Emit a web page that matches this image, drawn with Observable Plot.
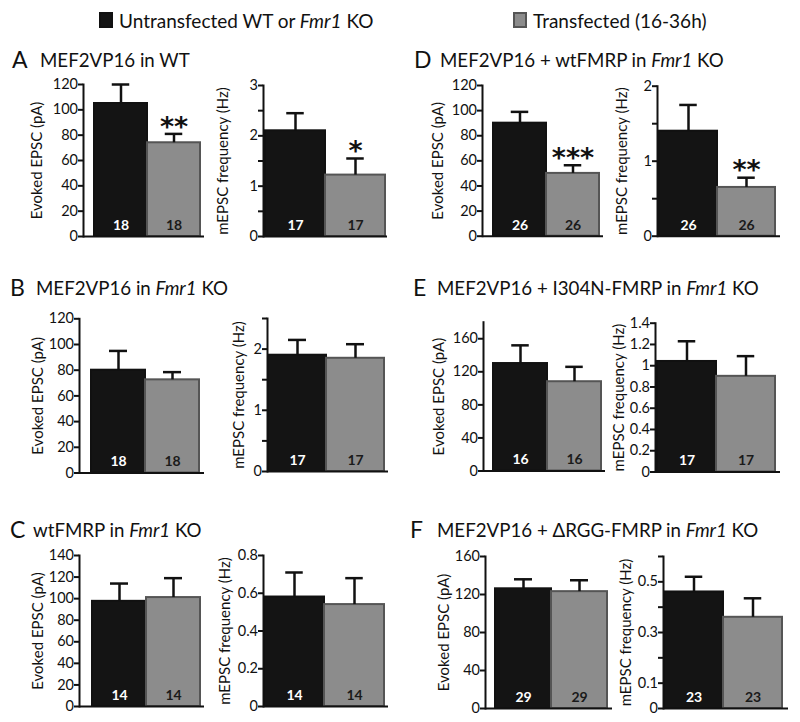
<!DOCTYPE html>
<html>
<head>
<meta charset="utf-8">
<script src="https://cdn.jsdelivr.net/npm/d3@7"></script>
<script src="https://cdn.jsdelivr.net/npm/@observablehq/plot@0.6"></script>
<style>
  html, body { margin: 0; padding: 0; background: #fff; }
  #page { position: relative; width: 800px; height: 722px; overflow: hidden; font-family: Lato, "Open Sans", sans-serif; color: #111; }
  #page svg { position: absolute; left: 0; top: 0; }
  .t { position: absolute; white-space: nowrap; line-height: 1; }
  .sq { position: absolute; box-sizing: border-box; }
  g[aria-label="y-axis tick"] path { stroke-width: 2px; }
  g[aria-label="y-axis label"] { font-size: 15px; }
</style>
</head>
<body>
<div id="page"></div>
<script>
// ---------------- data ----------------
const panelLetters = ["A", "B", "C", "D", "E", "F"];
const panelTitles = [
  "MEF2VP16 in WT",
  "MEF2VP16 in <i>Fmr1</i> KO",
  "wtFMRP in <i>Fmr1</i> KO",
  "MEF2VP16 + wtFMRP in <i>Fmr1</i> KO",
  "MEF2VP16 + I304N-FMRP in <i>Fmr1</i> KO",
  "MEF2VP16 + \u0394RGG-FMRP in <i>Fmr1</i> KO"
];
const groups = ["Untransfected", "Transfected"];
const groupLabels = ["Untransfected WT or <i>Fmr1</i> KO", "Transfected (16-36h)"];

// Evoked EPSC (pA): mean and top of error bar
const evokedUntrans = [105, 80, 97.5, 90, 130, 126];
const evokedUntransTop = [120, 95, 114, 99, 152, 136];
const evokedTrans = [74, 72.5, 101, 50, 108, 123];
const evokedTransTop = [81, 78.5, 119, 56.5, 126, 135];
const evokedN = [18, 18, 14, 26, 16, 29];
const evokedStars = ["**", "", "", "***", "", ""];

// mEPSC frequency (Hz)
const mepscUntrans = [2.1, 1.9, 0.58, 1.4, 1.04, 0.46];
const mepscUntransTop = [2.45, 2.15, 0.71, 1.75, 1.23, 0.52];
const mepscTrans = [1.22, 1.85, 0.54, 0.65, 0.9, 0.36];
const mepscTransTop = [1.55, 2.08, 0.68, 0.78, 1.09, 0.435];
const mepscN = [17, 17, 14, 26, 17, 23];
const mepscStars = ["*", "", "", "**", "", ""];

// axes
const evokedMax = [120, 120, 140, 120, 180, 160];
const evokedTicks = [
  [0, 20, 40, 60, 80, 100, 120],
  [0, 20, 40, 60, 80, 100, 120],
  [0, 20, 40, 60, 80, 100, 120, 140],
  [0, 20, 40, 60, 80, 100, 120],
  [0, 40, 80, 120, 160],
  [0, 40, 80, 120, 160]
];
const mepscMax = [3, 2.5, 0.8, 2, 1.4, 0.6];
const mepscTicks = [
  [0, 0.5, 1, 1.5, 2, 2.5, 3],
  [0, 0.5, 1, 1.5, 2, 2.5],
  [0, 0.2, 0.4, 0.6, 0.8],
  [0, 0.5, 1, 1.5, 2],
  [0, 0.2, 0.4, 0.6, 0.8, 1, 1.2, 1.4],
  [0, 0.1, 0.2, 0.3, 0.4, 0.5, 0.6]
];
const mepscTickLabels = [
  [0, 1, 2, 3],
  [0, 1, 2],
  [0, 0.2, 0.4, 0.6, 0.8],
  [0, 1, 2],
  [0, 0.2, 0.4, 0.6, 0.8, 1, 1.2, 1.4],
  [0, 0.1, 0.3, 0.5]
];
const evokedLabel = "Evoked EPSC (pA)";
const mepscLabel = "mEPSC frequency (Hz)";

// ---------------- layout (pixels) ----------------
const W = 800, H = 722;
const layout = {
  A: { evoked: {x0: 83, x1: 204, y0: 84, y1: 236, b0: 93, b1: 200, lo: 52},
       mepsc:  {x0: 263, x1: 387, y0: 85, y1: 236, b0: 264, b1: 385, lo: 46},
       letter: [12, 68], title: 40 },
  B: { evoked: {x0: 79, x1: 204, y0: 318.3, y1: 472.5, b0: 91, b1: 199, lo: 47},
       mepsc:  {x0: 267, x1: 388, y0: 318, y1: 471, b0: 268, b1: 384, lo: 34},
       letter: [10, 296], title: 36 },
  C: { evoked: {x0: 79, x1: 204, y0: 555, y1: 706, b0: 92, b1: 200, lo: 47},
       mepsc:  {x0: 263, x1: 388, y0: 555, y1: 706, b0: 263, b1: 384, lo: 44},
       letter: [10, 538], title: 33 },
  D: { evoked: {x0: 482, x1: 603, y0: 85, y1: 235.7, b0: 492, b1: 599, lo: 50},
       mepsc:  {x0: 657, x1: 780, y0: 85.7, y1: 235.7, b0: 658, b1: 775, lo: 41},
       letter: [414, 68], title: 440 },
  E: { evoked: {x0: 483, x1: 605, y0: 321.7, y1: 470.5, b0: 492, b1: 601, lo: 50},
       mepsc:  {x0: 655, x1: 780, y0: 322.7, y1: 471.5, b0: 656, b1: 775, lo: 42},
       letter: [413, 296], title: 437 },
  F: { evoked: {x0: 485, x1: 612, y0: 556, y1: 708, b0: 495, b1: 607, lo: 47},
       mepsc:  {x0: 663, x1: 788, y0: 556, y1: 708, b0: 663, b1: 782, lo: 43},
       letter: [410, 538], title: 437 }
};
const colors = {Untransfected: "#141414", Transfected: "#8c8c8c"};
const strokes = {Untransfected: "#111", Transfected: "#555"};
const numColors = {Untransfected: "#fff", Transfected: "#1a1a1a"};
const FS = 14.5;

const page = document.getElementById("page");

function addText(html, x, baseline, fs, extra = "") {
  const d = document.createElement("div");
  d.className = "t";
  d.style.cssText = `left:${x}px;top:${baseline - 0.887 * fs}px;font-size:${fs}px;${extra}`;
  d.innerHTML = html;
  page.appendChild(d);
}

function chart(fr, ymax, ticks, labels, label, vals, tops, n, stars) {
  const data = groups.map((g, j) => ({g, v: vals[j], top: tops[j], n: String(n), stars: j === 1 ? stars : ""}));
  const bw = (fr.b1 - fr.b0) / 2;
  const inset = (bw - 18) / 2;
  const svg = Plot.plot({
    width: W, height: H,
    marginLeft: fr.x0, marginRight: W - fr.x1, marginTop: fr.y0, marginBottom: H - fr.y1,
    style: {background: "transparent", fontFamily: "Lato, 'Open Sans', sans-serif", fontSize: FS + "px", color: "#111", overflow: "visible"},
    x: {type: "band", domain: groups, range: [fr.b0, fr.b1], padding: 0, axis: null},
    y: {domain: [0, ymax], ticks, tickFormat: d => labels.includes(d) ? String(d) : "",
        tickSize: 5, tickPadding: 0.5, label, labelAnchor: "center", labelOffset: fr.lo, labelArrow: "none"},
    marks: [
      Plot.barY(data, {x: "g", y: "v", fill: d => colors[d.g], stroke: d => strokes[d.g], strokeWidth: 2}),
      Plot.ruleX(data, {x: "g", y1: "v", y2: "top", stroke: "#111", strokeWidth: 2.5}),
      Plot.tickY(data, {x: "g", y: "top", stroke: "#111", strokeWidth: 2.5, insetLeft: inset, insetRight: inset}),
      Plot.text(data, {x: "g", y: 0, text: "n", fill: d => numColors[d.g], fontWeight: "bold", fontSize: 14, dy: -11}),
      Plot.text(data.filter(d => d.stars), {x: "g", y: "top", text: "stars", fill: "#111", fontWeight: "bold",
        fontSize: 27, fontFamily: "DejaVu Sans", dy: -7}),
      Plot.ruleY([0], {stroke: "#111", strokeWidth: 2}),
      Plot.frame({anchor: "left", stroke: "#111", strokeWidth: 2})
    ]
  });
  svg.style.fontSize = FS + "px";
  return svg;
}

// legend
[[99, 119], [513, 533]].forEach(([sx, tx], j) => {
  const s = document.createElement("div");
  s.className = "sq";
  s.style.cssText = `left:${sx}px;top:12px;width:14px;height:16px;background:${colors[groups[j]]};border:2px solid ${strokes[groups[j]]};`;
  page.appendChild(s);
  addText(groupLabels[j], tx, 28, 19);
});

panelLetters.forEach((p, i) => {
  const L = layout[p];
  addText(p, L.letter[0], L.letter[1], 23);
  addText(panelTitles[i], L.title, L.letter[1], 18.7);
  page.appendChild(chart(L.evoked, evokedMax[i], evokedTicks[i], evokedTicks[i], evokedLabel,
    [evokedUntrans[i], evokedTrans[i]], [evokedUntransTop[i], evokedTransTop[i]], evokedN[i], evokedStars[i]));
  page.appendChild(chart(L.mepsc, mepscMax[i], mepscTicks[i], mepscTickLabels[i], mepscLabel,
    [mepscUntrans[i], mepscTrans[i]], [mepscUntransTop[i], mepscTransTop[i]], mepscN[i], mepscStars[i]));
});
</script>
</body>
</html>
